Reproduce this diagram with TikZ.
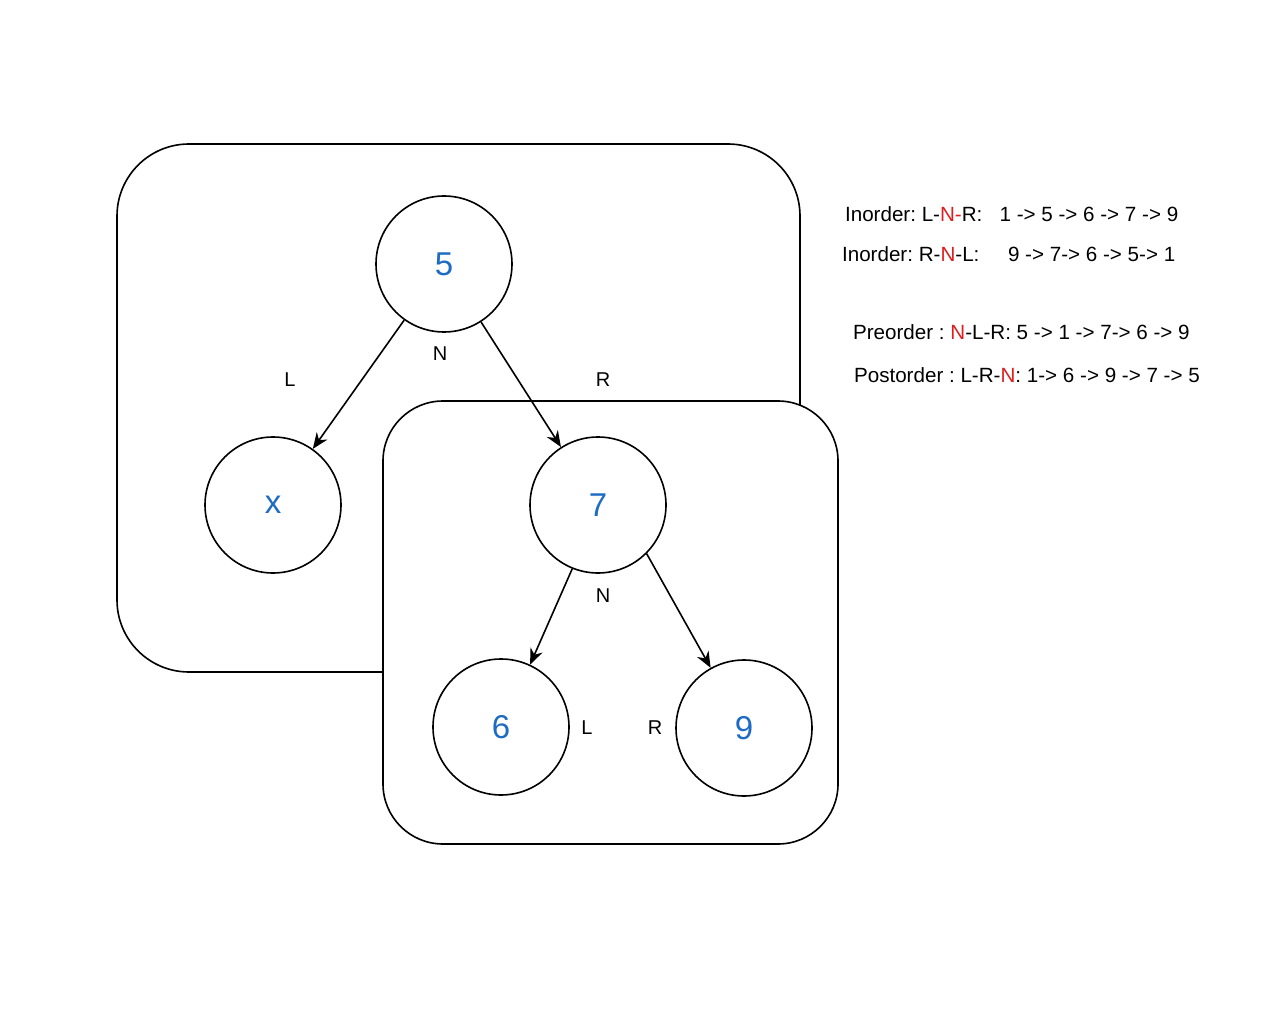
\documentclass[tikz,border=0pt]{standalone}
\usepackage{fontspec}
\setmainfont{Liberation Sans}
\usetikzlibrary{arrows.meta}
\definecolor{numblue}{RGB}{30,107,196}
\definecolor{nred}{RGB}{222,30,30}
\frenchspacing
\tikzset{
  vertex/.style={draw,circle,fill=white,thick,minimum size=68pt,inner sep=0pt,
    text=numblue,font=\fontsize{16.5}{19}\selectfont},
  edgelbl/.style={font=\fontsize{10}{12}\selectfont},
  order/.style={anchor=west,font=\fontsize{10.3}{12}\selectfont},
  subtree/.style={draw,thick,rounded corners=36pt},
  tip/.style={thick,-{Stealth[length=8pt,width=6.5pt]}}
}
\begin{document}
\begin{tikzpicture}[x=0.5pt,y=-0.5pt]
    \useasboundingbox (0,0) rectangle (1280,1032);
    %% subtrees
    \draw[subtree] (117,144) rectangle (800,672);
    \draw[subtree,fill=white,rounded corners=30pt] (383,401) rectangle (838,844);
    %% nodes
    \node[vertex] (n5) at (444,264) {5};
    \node[vertex] (nx) at (273,505) {x};
    \node[vertex] (n7) at (598,505) {7};
    \node[vertex] (n6) at (501,727) {6};
    \node[vertex] (n9) at (744,728) {9};
    %% edges
    \draw[tip] (n5) -- (nx);
    \draw[tip] (n5) -- (n7);
    \draw[tip] (n7.-112) -- (n6.65);
    \draw[tip] (n7.-45) -- (n9.119);
    %% N, L, R
    \node[edgelbl] (l5) at (290,380) {L};
    \node[edgelbl] (c5) at (440,354) {N};
    \node[edgelbl] (r5) at (603,380) {R};
    \node[edgelbl] (c7) at (603,596) {N};
    \node[edgelbl] (l7) at (587,728) {L};
    \node[edgelbl] (r7) at (655,728) {R};
    %% traversals
    \node[order] (in1) at (838,214) {Inorder: L-\textcolor{nred}{N-}R:\ \ \ 1 -> 5 -> 6 -> 7 -> 9};
    \node[order] (in2) at (835,254) {Inorder: R-\textcolor{nred}{N}-L:\ \ \ \ \ 9 -> 7-> 6 -> 5-> 1};
    \node[order] (pre) at (846,332) {Preorder : \textcolor{nred}{N}-L-R: 5 -> 1 -> 7-> 6 -> 9};
    \node[order] (post) at (847,375) {Postorder : L-R-\textcolor{nred}{N}: 1-> 6 -> 9 -> 7 -> 5};
\end{tikzpicture}
\end{document}
